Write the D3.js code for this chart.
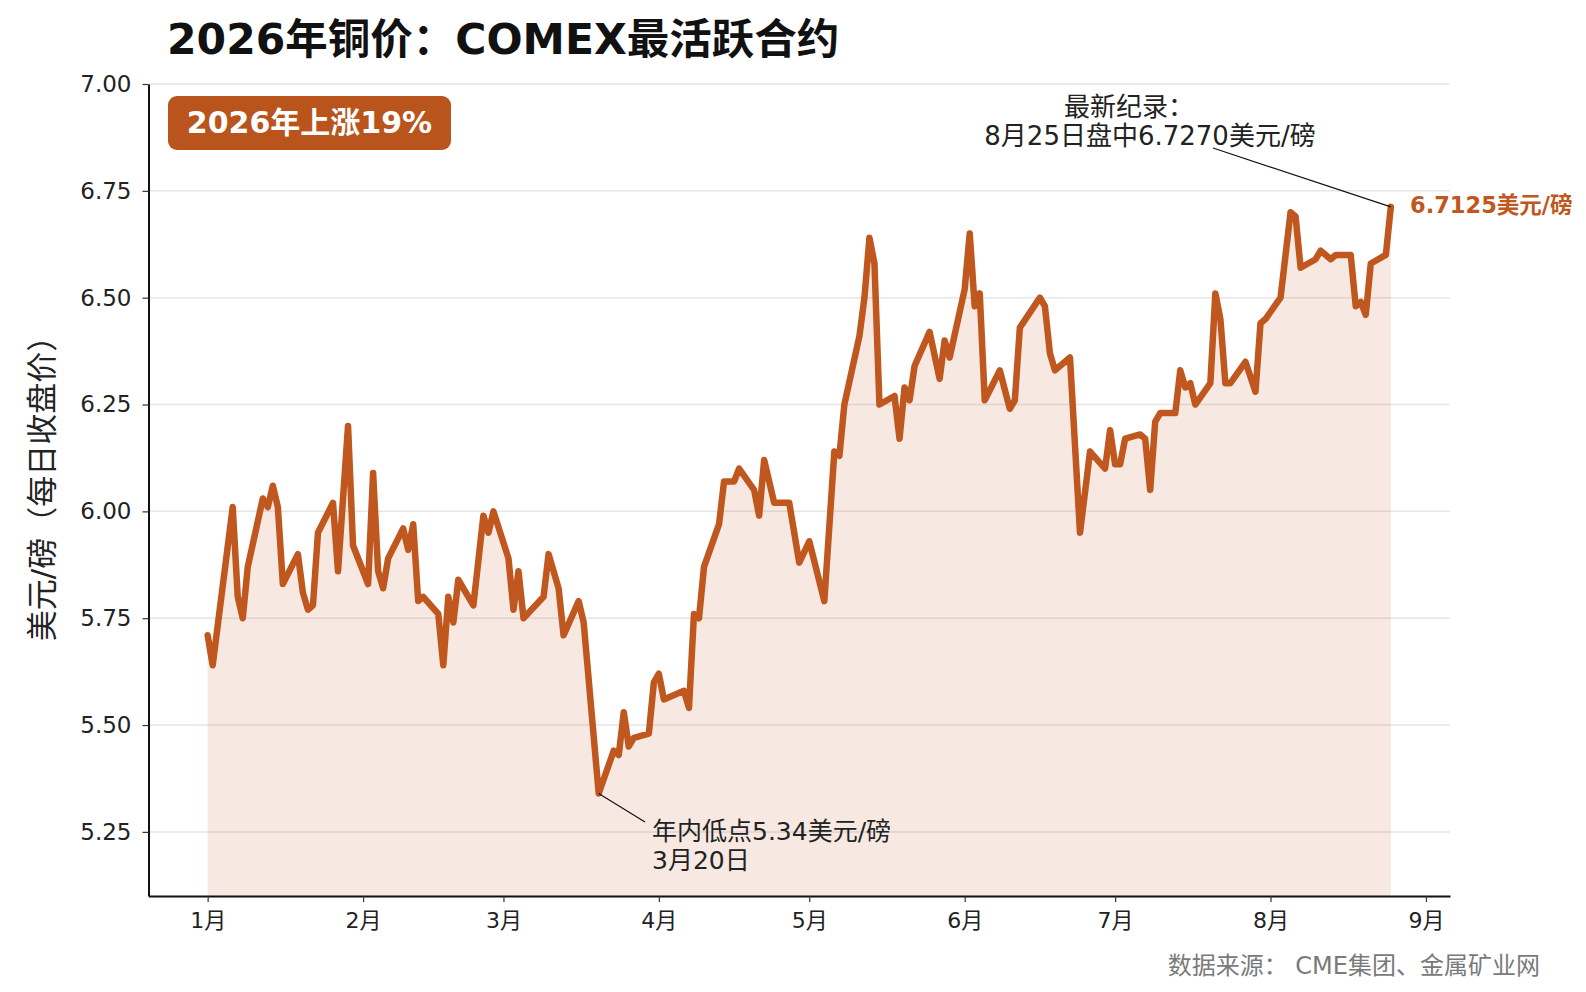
<!DOCTYPE html>
<html>
<head>
<meta charset="utf-8">
<script src="https://cdn.jsdelivr.net/npm/d3@7"></script>
<style>
  body { margin: 0; background: #fff; }
  svg { display: block; font-family: "DejaVu Sans", "Noto Sans CJK SC", sans-serif; }
</style>
</head>
<body>
<svg id="chart" width="1586" height="992"></svg>
<script>
// COMEX copper, daily close (USD/lb)
var dates = [
  '2026-01-01','2026-01-02','2026-01-06','2026-01-07','2026-01-08','2026-01-09',
  '2026-01-12','2026-01-13','2026-01-14','2026-01-15','2026-01-16',
  '2026-01-19','2026-01-20','2026-01-21','2026-01-22','2026-01-23',
  '2026-01-26','2026-01-27','2026-01-29','2026-01-30',
  '2026-02-02','2026-02-03','2026-02-04','2026-02-05','2026-02-06',
  '2026-02-09','2026-02-10','2026-02-11','2026-02-12','2026-02-13',
  '2026-02-16','2026-02-17','2026-02-18','2026-02-19','2026-02-20',
  '2026-02-23','2026-02-25','2026-02-26','2026-02-27',
  '2026-03-02','2026-03-03','2026-03-04','2026-03-05',
  '2026-03-09','2026-03-10','2026-03-12','2026-03-13',
  '2026-03-16','2026-03-17','2026-03-20',
  '2026-03-23','2026-03-24','2026-03-25','2026-03-26','2026-03-27',
  '2026-03-30','2026-03-31','2026-04-01','2026-04-02',
  '2026-04-06','2026-04-07','2026-04-08','2026-04-09','2026-04-10',
  '2026-04-13','2026-04-14','2026-04-16','2026-04-17',
  '2026-04-20','2026-04-21','2026-04-22','2026-04-24',
  '2026-04-27','2026-04-29','2026-05-01',
  '2026-05-04','2026-05-06','2026-05-07','2026-05-08',
  '2026-05-11','2026-05-12','2026-05-13','2026-05-14','2026-05-15',
  '2026-05-18','2026-05-19','2026-05-20','2026-05-21','2026-05-22',
  '2026-05-25','2026-05-27','2026-05-28','2026-05-29',
  '2026-06-01','2026-06-02','2026-06-03','2026-06-04','2026-06-05',
  '2026-06-08','2026-06-10','2026-06-11','2026-06-12',
  '2026-06-16','2026-06-17','2026-06-18','2026-06-19',
  '2026-06-22','2026-06-24','2026-06-26',
  '2026-06-29','2026-06-30','2026-07-01','2026-07-02','2026-07-03',
  '2026-07-06','2026-07-07','2026-07-08','2026-07-09','2026-07-10',
  '2026-07-13','2026-07-14','2026-07-15','2026-07-16','2026-07-17',
  '2026-07-20','2026-07-21','2026-07-22','2026-07-23','2026-07-24',
  '2026-07-27','2026-07-29','2026-07-30','2026-07-31',
  '2026-08-03','2026-08-05','2026-08-06','2026-08-07',
  '2026-08-10','2026-08-11','2026-08-13','2026-08-14',
  '2026-08-17','2026-08-18','2026-08-19','2026-08-20','2026-08-21',
  '2026-08-24','2026-08-25'
]
var closes = [
  5.71, 5.64, 6.01, 5.80, 5.75, 5.87,
  6.03, 6.01, 6.06, 6.01, 5.83,
  5.90, 5.81, 5.77, 5.78, 5.95,
  6.02, 5.86, 6.20, 5.92,
  5.83, 6.09, 5.86, 5.82, 5.89,
  5.96, 5.91, 5.97, 5.79, 5.80,
  5.76, 5.64, 5.80, 5.74, 5.84,
  5.78, 5.99, 5.95, 6.00,
  5.89, 5.77, 5.86, 5.75,
  5.80, 5.90, 5.82, 5.71,
  5.79, 5.74, 5.34,
  5.44, 5.43, 5.53, 5.45, 5.47,
  5.48, 5.60, 5.62, 5.56,
  5.58, 5.54, 5.76, 5.75, 5.87,
  5.97, 6.07, 6.07, 6.10,
  6.05, 5.99, 6.12, 6.02,
  6.02, 5.88, 5.93,
  5.79, 6.14, 6.13, 6.25,
  6.41, 6.50, 6.64, 6.58, 6.25,
  6.27, 6.17, 6.29, 6.26, 6.34,
  6.42, 6.31, 6.40, 6.36,
  6.52, 6.65, 6.48, 6.51, 6.26,
  6.33, 6.24, 6.26, 6.43,
  6.50, 6.48, 6.37, 6.33,
  6.36, 5.95, 6.14,
  6.10, 6.19, 6.11, 6.11, 6.17,
  6.18, 6.17, 6.05, 6.21, 6.23,
  6.23, 6.33, 6.29, 6.30, 6.25,
  6.30, 6.51, 6.45, 6.30, 6.30,
  6.35, 6.28, 6.44, 6.45,
  6.50, 6.70, 6.69, 6.57,
  6.59, 6.61, 6.59, 6.60,
  6.60, 6.48, 6.49, 6.46, 6.58,
  6.60, 6.7125
]
var yTicks = [5.25, 5.50, 5.75, 6.00, 6.25, 6.50, 6.75, 7.00]
var monthTicks = ['2026-01-01','2026-02-01','2026-03-01','2026-04-01','2026-05-01',
                  '2026-06-01','2026-07-01','2026-08-01','2026-09-01']

var parse = d3.timeParse('%Y-%m-%d')
var data = dates.map(function (d, i) { return { date: parse(d), value: closes[i] } })
var last = data[data.length - 1]
var low = data.reduce(function (a, b) { return b.value < a.value ? b : a })

var svg = d3.select('#chart')
var margin = { left: 148.5, right: 1450, top: 84, bottom: 896 }
var orange = '#bf571e'

// time axis padded 5% each side like the original
var ext = d3.extent(data, d => d.date)
var pad = (ext[1] - ext[0]) * 0.05
var xscale = d3.scaleTime()
    .domain([new Date(+ext[0] - pad), new Date(+ext[1] + pad)])
    .range([margin.left, margin.right])
var yscale = d3.scaleLinear()
    .domain([5.1, 7.0])
    .range([margin.bottom, margin.top])

// grid
svg.append('g')
    .selectAll('line')
    .data(yTicks)
    .enter()
    .append('line')
    .attr('x1', margin.left).attr('x2', margin.right)
    .attr('y1', d => yscale(d)).attr('y2', d => yscale(d))
    .attr('stroke', '#e6e6e6')
    .attr('stroke-width', 1.5)

var area = d3.area()
    .x(d => xscale(d.date))
    .y0(yscale(5.1))
    .y1(d => yscale(d.value))
var line = d3.line()
    .x(d => xscale(d.date))
    .y(d => yscale(d.value))

svg.append('path').datum(data)
    .attr('d', area)
    .attr('fill', orange)
    .attr('fill-opacity', 0.13)
svg.append('path').datum(data)
    .attr('d', line)
    .attr('fill', 'none')
    .attr('stroke', orange)
    .attr('stroke-width', 6.5)
    .attr('stroke-linejoin', 'round')
    .attr('stroke-linecap', 'round')

// axes
var yAxis = svg.append('g')
    .attr('transform', 'translate(' + margin.left + ',0)')
    .call(d3.axisLeft(yscale).tickValues(yTicks).tickFormat(d3.format('.2f'))
        .tickSize(6).tickSizeOuter(0).tickPadding(11))
var xAxis = svg.append('g')
    .attr('transform', 'translate(0,' + margin.bottom + ')')
    .call(d3.axisBottom(xscale).tickValues(monthTicks.map(parse))
        .tickFormat(d => (d.getMonth() + 1) + '月')
        .tickSize(6).tickSizeOuter(0).tickPadding(10))
yAxis.attr('font-family', null).attr('font-size', null)
xAxis.attr('font-family', null).attr('font-size', null)
svg.selectAll('.domain').attr('stroke', '#111').attr('stroke-width', 2)
svg.selectAll('.tick line').attr('stroke', '#333').attr('stroke-width', 1.2)
yAxis.selectAll('text').attr('font-size', 23).attr('fill', '#222')
xAxis.selectAll('text').attr('font-size', 22).attr('fill', '#222')

// title and labels
svg.append('text').text('2026年铜价：COMEX最活跃合约')
    .attr('x', 167).attr('y', 54)
    .attr('font-size', 42.5).attr('font-weight', 'bold').attr('fill', '#111')
svg.append('text').text('美元/磅（每日收盘价）')
    .attr('transform', 'translate(53,481) rotate(-90)')
    .attr('text-anchor', 'middle')
    .attr('font-size', 31).attr('fill', '#222')

// badge
svg.append('rect')
    .attr('x', 168).attr('y', 96).attr('width', 283).attr('height', 54)
    .attr('rx', 9).attr('fill', '#b9541d')
svg.append('text').text('2026年上涨19%')
    .attr('x', 309.5).attr('y', 133)
    .attr('text-anchor', 'middle')
    .attr('font-size', 30).attr('font-weight', 'bold').attr('fill', '#fff')

// low annotation
svg.append('line')
    .attr('x1', xscale(low.date)).attr('y1', yscale(low.value))
    .attr('x2', 645).attr('y2', 822)
    .attr('stroke', '#111').attr('stroke-width', 1.2)
svg.append('text').text('年内低点5.34美元/磅')
    .attr('x', 652).attr('y', 840)
    .attr('font-size', 25).attr('fill', '#222')
svg.append('text').text('3月20日')
    .attr('x', 652).attr('y', 869)
    .attr('font-size', 25).attr('fill', '#222')

// record annotation
svg.append('line')
    .attr('x1', 1213).attr('y1', 148)
    .attr('x2', xscale(last.date)).attr('y2', yscale(last.value))
    .attr('stroke', '#111').attr('stroke-width', 1.2)
svg.append('text').text('最新纪录：')
    .attr('x', 1064).attr('y', 116)
    .attr('font-size', 26).attr('fill', '#222')
svg.append('text').text('8月25日盘中6.7270美元/磅')
    .attr('x', 1150).attr('y', 145)
    .attr('text-anchor', 'middle')
    .attr('font-size', 26).attr('fill', '#222')

svg.append('text').text('6.7125美元/磅')
    .attr('x', 1410).attr('y', 213)
    .attr('font-size', 22.5).attr('font-weight', 'bold').attr('fill', orange)

svg.append('text').text('数据来源： CME集团、金属矿业网')
    .attr('x', 1540).attr('y', 974)
    .attr('text-anchor', 'end')
    .attr('font-size', 24).attr('fill', '#7a7a7a')
</script>
</body>
</html>
